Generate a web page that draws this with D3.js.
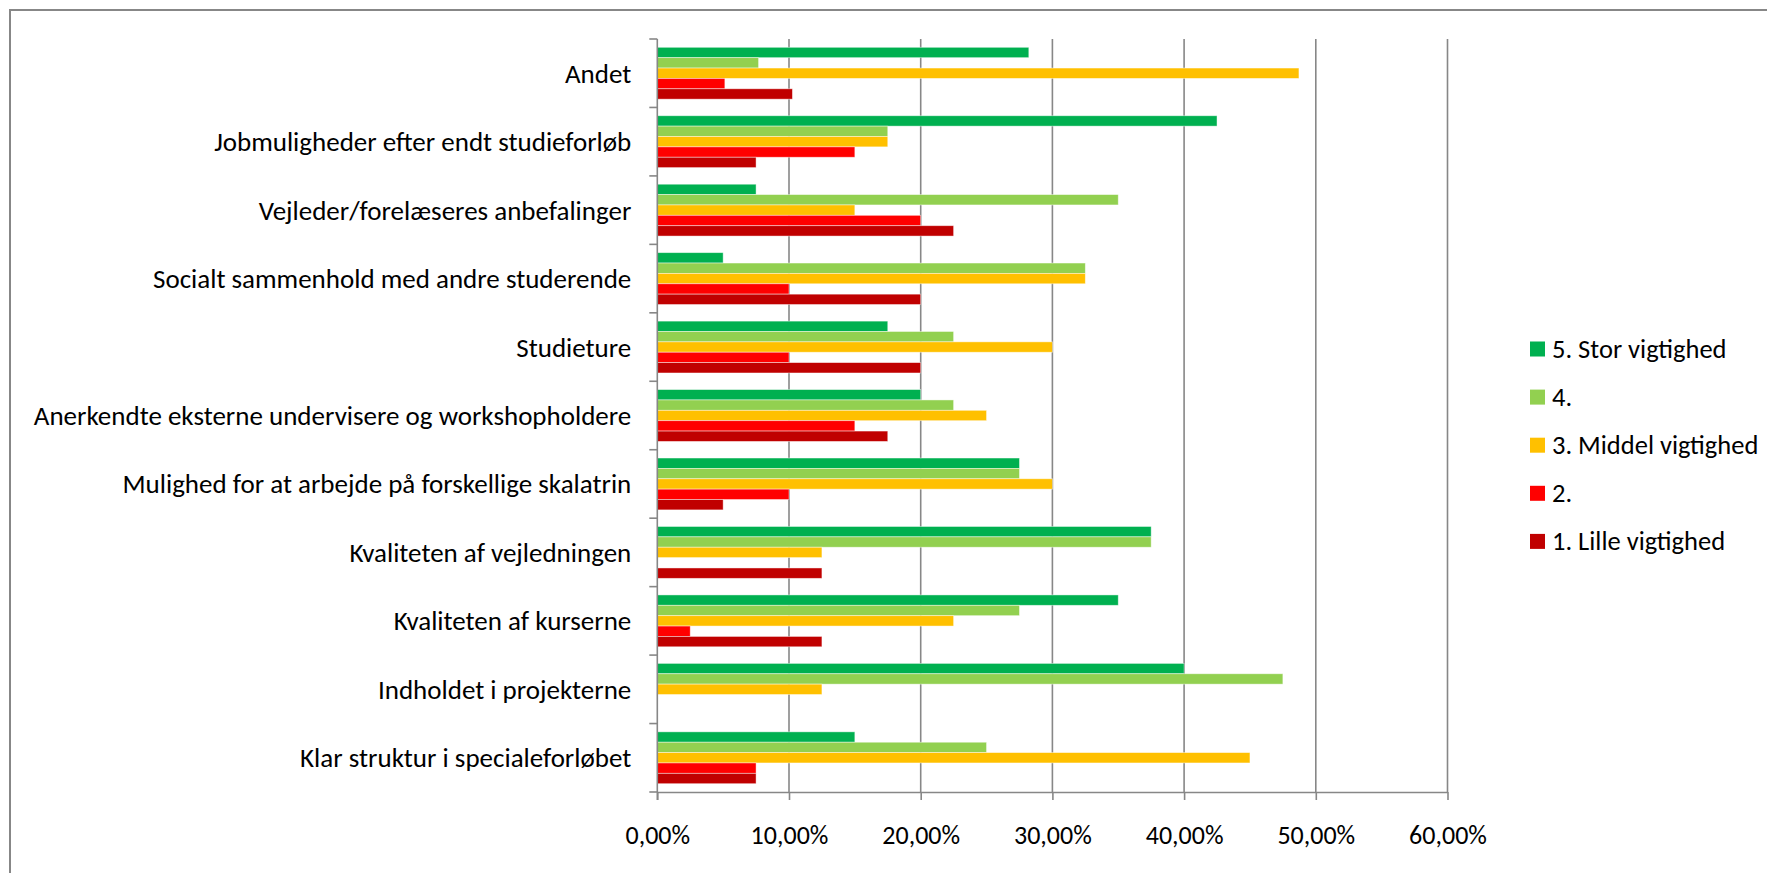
<!DOCTYPE html>
<html>
<head>
<meta charset="utf-8">
<script src="https://cdn.jsdelivr.net/npm/d3@7"></script>
<style>
  html, body { margin: 0; padding: 0; background: #fff; }
  svg { display: block; }
  text { font-family: Carlito, Calibri, Lato, "Open Sans", sans-serif; fill: #000; }
</style>
</head>
<body>
<svg id="chart" width="1767" height="873"></svg>
<script>
// Categories from top to bottom (as shown)
const categories = [
  "Andet",
  "Jobmuligheder efter endt studieforløb",
  "Vejleder/forelæseres anbefalinger",
  "Socialt sammenhold med andre studerende",
  "Studieture",
  "Anerkendte eksterne undervisere og workshopholdere",
  "Mulighed for at arbejde på forskellige skalatrin",
  "Kvaliteten af vejledningen",
  "Kvaliteten af kurserne",
  "Indholdet i projekterne",
  "Klar struktur i specialeforløbet"
];
const seriesNames = ["5. Stor vigtighed", "4.", "3. Middel vigtighed", "2.", "1. Lille vigtighed"];
const seriesColors = ["#00B050", "#92D050", "#FFC000", "#FF0000", "#C00000"];

// Values (fractions), one array per series, in category order above
const stor    = [0.2821, 0.425, 0.075, 0.05,  0.175, 0.20,  0.275, 0.375, 0.35,  0.40,  0.15];
const fire    = [0.0769, 0.175, 0.35,  0.325, 0.225, 0.225, 0.275, 0.375, 0.275, 0.475, 0.25];
const middel  = [0.4872, 0.175, 0.15,  0.325, 0.30,  0.25,  0.30,  0.125, 0.225, 0.125, 0.45];
const to      = [0.0513, 0.15,  0.20,  0.10,  0.10,  0.15,  0.10,  0.0,   0.025, 0.0,   0.075];
const lille   = [0.1026, 0.075, 0.225, 0.20,  0.20,  0.175, 0.05,  0.125, 0.125, 0.0,   0.075];
const seriesValues = [stor, fire, middel, to, lille];

const tickValues = [0, 0.1, 0.2, 0.3, 0.4, 0.5, 0.6];
const tickLabels = ["0,00%", "10,00%", "20,00%", "30,00%", "40,00%", "50,00%", "60,00%"];

const svg = d3.select("#chart");
const gridColor = "#878787";

// Outer chart border (right/bottom edges fall outside the image)
svg.append("rect")
  .attr("x", 10).attr("y", 10)
  .attr("width", 1800).attr("height", 900)
  .attr("fill", "none").attr("stroke", "#878787").attr("stroke-width", 2);

const plot = { left: 657.3, right: 1447.5, top: 39, bottom: 792 };

const x = d3.scaleLinear().domain([0, 0.6]).range([plot.left, plot.right]);
const y = d3.scaleBand().domain(categories).range([plot.top, plot.bottom]).padding(0);
const yInner = d3.scaleBand().domain(seriesNames).range([0, y.bandwidth()])
  .paddingInner(0).paddingOuter(0.8);

// Gridlines
svg.append("g").selectAll("line")
  .data(tickValues.slice(1))
  .join("line")
  .attr("x1", d => x(d)).attr("x2", d => x(d))
  .attr("y1", plot.top).attr("y2", plot.bottom)
  .attr("stroke", gridColor).attr("stroke-width", 1.6);

// Bars
const rows = [];
categories.forEach((c, i) => {
  seriesNames.forEach((s, j) => {
    rows.push({ cat: c, series: s, value: seriesValues[j][i], color: seriesColors[j] });
  });
});
svg.append("g").selectAll("rect")
  .data(rows.filter(d => d.value > 0))
  .join("rect")
  .attr("x", x(0))
  .attr("y", d => y(d.cat) + yInner(d.series))
  .attr("width", d => x(d.value) - x(0))
  .attr("height", yInner.bandwidth())
  .attr("fill", d => d.color)
  .attr("stroke", "rgba(255,255,255,0.55)")
  .attr("stroke-width", 0.8);

// X axis
const xAxis = d3.axisBottom(x)
  .tickValues(tickValues)
  .tickFormat((d, i) => tickLabels[i])
  .tickSize(8)
  .tickPadding(25.5)
  .tickSizeOuter(0);
const gx = svg.append("g")
  .attr("transform", `translate(0,${plot.bottom})`)
  .call(xAxis);
gx.select(".domain").attr("stroke", gridColor).attr("stroke-width", 1.6);
gx.selectAll(".tick line").attr("stroke", gridColor).attr("stroke-width", 1.6);
gx.selectAll(".tick text")
  .style("font-size", "26px")
  .style("font-family", "Carlito, Calibri, Lato, sans-serif")
  .attr("fill", "#000");

// Y axis line and boundary ticks
const gy = svg.append("g");
gy.append("line")
  .attr("x1", plot.left).attr("x2", plot.left)
  .attr("y1", plot.top).attr("y2", plot.bottom + 8)
  .attr("stroke", gridColor).attr("stroke-width", 1.6);
const boundaries = categories.map(c => y(c)).concat([plot.bottom]);
gy.selectAll("line.tk")
  .data(boundaries)
  .join("line")
  .attr("class", "tk")
  .attr("x1", plot.left - 8).attr("x2", plot.left)
  .attr("y1", d => d).attr("y2", d => d)
  .attr("stroke", gridColor).attr("stroke-width", 1.6);

// Category labels
svg.append("g").selectAll("text")
  .data(categories)
  .join("text")
  .attr("x", plot.left - 26)
  .attr("y", d => y(d) + y.bandwidth() / 2)
  .attr("text-anchor", "end")
  .attr("dominant-baseline", "central")
  .style("font-size", "27px")
  .text(d => d);

// Legend
const legend = svg.append("g").attr("transform", "translate(1530,349)");
const lg = legend.selectAll("g")
  .data(seriesNames)
  .join("g")
  .attr("transform", (d, i) => `translate(0,${i * 48.1})`);
lg.append("rect")
  .attr("x", 0).attr("y", -7.5)
  .attr("width", 15).attr("height", 15)
  .attr("fill", (d, i) => seriesColors[i]);
lg.append("text")
  .attr("x", 22).attr("y", 0)
  .attr("dominant-baseline", "central")
  .style("font-size", "26.5px")
  .text(d => d);
</script>
</body>
</html>
